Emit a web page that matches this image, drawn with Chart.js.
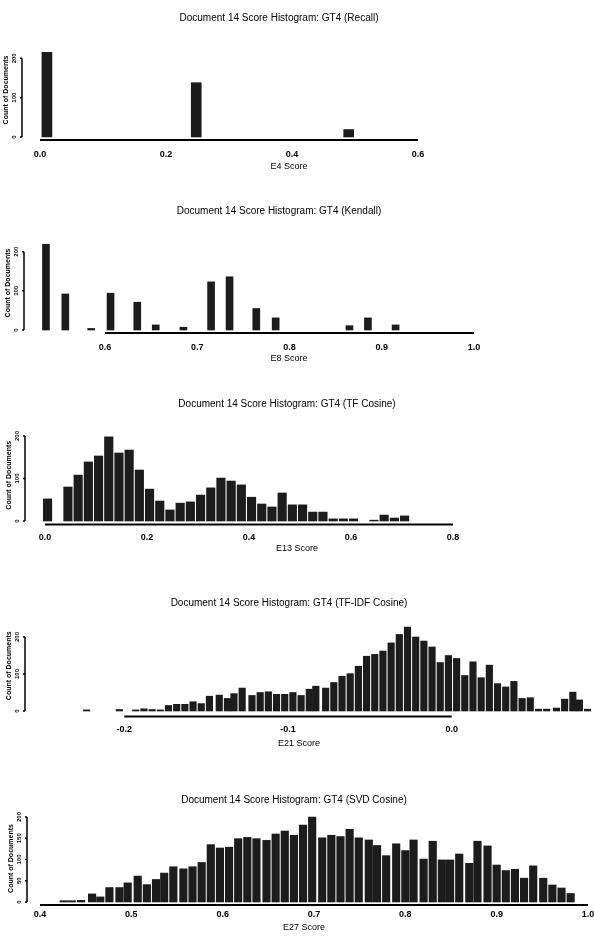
<!DOCTYPE html>
<html>
<head>
<meta charset="utf-8">
<title>Document 14 Score Histograms</title>
<script src="https://cdn.jsdelivr.net/npm/chart.js@4.4.0/dist/chart.umd.min.js"></script>
<style>
  body { margin: 0; background: #fff; }
  #page { position: relative; width: 594px; height: 936px; overflow: hidden; }
  canvas { position: absolute; left: 0; }
</style>
</head>
<body>
<div id="page">
  <canvas id="recallChart" width="594" height="186" style="top:0px"></canvas>
  <canvas id="kendallChart" width="594" height="186" style="top:193px"></canvas>
  <canvas id="tfChart" width="594" height="180" style="top:386px"></canvas>
  <canvas id="tfidfChart" width="594" height="180" style="top:585px"></canvas>
  <canvas id="svdChart" width="594" height="154" style="top:782px"></canvas>
</div>
<script>
// GT4 (Recall)
const recallScore = [0.011, 0.248, 0.490];
const recallCount = [215, 138, 19];
const recallTicks = [0.0, 0.2, 0.4, 0.6];

// GT4 (Kendall)
const kendallScore = [0.536, 0.557, 0.585, 0.606, 0.635, 0.655, 0.685, 0.715, 0.735, 0.764, 0.785, 0.865, 0.885, 0.915];
const kendallCount = [219, 92, 4, 94, 71, 13, 7, 123, 136, 55, 31, 11, 31, 13];
const kendallTicks = [0.6, 0.7, 0.8, 0.9, 1.0];

// GT4 (TF Cosine)
const tfScore = [0.005, 0.045, 0.065, 0.085, 0.105, 0.125, 0.145, 0.165, 0.185, 0.205,
  0.225, 0.245, 0.265, 0.285, 0.305, 0.325, 0.345, 0.365, 0.385, 0.405,
  0.425, 0.445, 0.465, 0.485, 0.505, 0.525, 0.545, 0.565, 0.585, 0.605,
  0.645, 0.665, 0.685, 0.705];
const tfCount = [52, 80, 108, 139, 153, 198, 160, 167, 120, 75,
  47, 26, 42, 45, 61, 78, 101, 94, 85, 56,
  40, 33, 66, 38, 38, 21, 21, 5, 5, 5,
  2, 14, 7, 12];
const tfTicks = [0.0, 0.2, 0.4, 0.6, 0.8];

// GT4 (TF-IDF Cosine)
const tfidfScore = [-0.223, -0.203, -0.193, -0.188, -0.183, -0.178, -0.173, -0.168, -0.163, -0.158,
  -0.153, -0.148, -0.142, -0.137, -0.133, -0.128, -0.122, -0.117, -0.112, -0.107,
  -0.102, -0.097, -0.092, -0.087, -0.083, -0.077, -0.072, -0.067, -0.062, -0.057,
  -0.052, -0.047, -0.042, -0.037, -0.032, -0.027, -0.022, -0.017, -0.012, -0.007,
  -0.002, 0.003, 0.008, 0.013, 0.018, 0.023, 0.028, 0.033, 0.038, 0.043,
  0.048, 0.053, 0.058, 0.064, 0.069, 0.074, 0.078, 0.083];
const tfidfCount = [3, 4, 3, 6, 4, 3, 15, 18, 18, 25,
  20, 40, 43, 34, 47, 62, 42, 50, 52, 45,
  45, 50, 42, 59, 67, 62, 77, 94, 101, 121,
  148, 153, 162, 184, 207, 227, 200, 189, 173, 131,
  150, 142, 96, 133, 90, 124, 74, 65, 80, 34,
  36, 5, 5, 8, 32, 51, 30, 5];
const tfidfTicks = [-0.2, -0.1, 0.0];

// GT4 (SVD Cosine)
const svdScore = [0.426, 0.435, 0.445, 0.457, 0.466, 0.476, 0.487, 0.496, 0.507, 0.517,
  0.527, 0.536, 0.546, 0.557, 0.567, 0.577, 0.587, 0.597, 0.607, 0.617,
  0.627, 0.637, 0.648, 0.658, 0.668, 0.678, 0.688, 0.698, 0.709, 0.719,
  0.729, 0.739, 0.749, 0.760, 0.769, 0.779, 0.790, 0.800, 0.809, 0.820,
  0.830, 0.840, 0.849, 0.859, 0.870, 0.879, 0.890, 0.900, 0.910, 0.920,
  0.930, 0.940, 0.951, 0.961, 0.971, 0.981];
const svdCount = [3, 3, 4, 19, 12, 34, 34, 45, 61, 41,
  53, 68, 83, 78, 83, 93, 135, 127, 129, 149,
  152, 149, 145, 160, 167, 157, 181, 200, 151, 157,
  154, 171, 151, 146, 133, 109, 137, 121, 146, 101,
  143, 99, 99, 113, 91, 143, 132, 87, 74, 77,
  56, 85, 56, 40, 33, 20];
const svdTicks = [0.4, 0.5, 0.6, 0.7, 0.8, 0.9, 1.0];

const countTicks = [0, 100, 200];
const svdCountTicks = [0, 50, 100, 150, 200];

const FONT = "'Liberation Sans Narrow', 'Liberation Sans', Arial, sans-serif";

// axes are drawn detached, only between first and last tick
const axisLines = {
  id: 'axisLines',
  afterDatasetsDraw(chart) {
    const { ctx, chartArea } = chart;
    const x = chart.scales.x;
    const y = chart.scales.y;
    const xt = x.ticks;
    const yt = y.ticks;
    ctx.save();
    ctx.strokeStyle = '#000';
    ctx.lineWidth = 2;
    ctx.beginPath();
    ctx.moveTo(x.getPixelForValue(xt[0].value), chartArea.bottom);
    ctx.lineTo(x.getPixelForValue(xt[xt.length - 1].value), chartArea.bottom);
    ctx.stroke();
    ctx.lineWidth = 1.5;
    ctx.beginPath();
    ctx.moveTo(chartArea.left, y.getPixelForValue(yt[0].value));
    ctx.lineTo(chartArea.left, y.getPixelForValue(yt[yt.length - 1].value));
    yt.forEach((t) => {
      const py = y.getPixelForValue(t.value);
      ctx.moveTo(chartArea.left - 2, py);
      ctx.lineTo(chartArea.left, py);
    });
    ctx.stroke();
    ctx.restore();
  },
};

// box holds pixel positions inside the canvas (layout only)
function histogram(canvasId, title, xTitle, scores, counts, xTicks, yTicks, box) {
  const canvas = document.getElementById(canvasId);
  const lh = 12; // title font 10px * 1.2
  const xPerUnit = (box.xMap[3] - box.xMap[1]) / (box.xMap[2] - box.xMap[0]);
  const xMin = box.xMap[0] + (box.left - box.xMap[1]) / xPerUnit;
  const xMax = box.xMap[0] + (box.right - box.xMap[1]) / xPerUnit;
  const yPerUnit = (box.y0 - box.yTop) / yTicks[yTicks.length - 1];
  const yMin = -(box.bottom - box.y0) / yPerUnit;
  const yMax = (box.y0 - box.top) / yPerUnit;
  const xh = box.xTitleY - box.bottom + 5.4;
  const padBottom = canvas.height - box.bottom - xh;

  return new Chart(canvas, {
    type: 'bar',
    data: {
      datasets: [
        {
          data: scores.map((s, i) => ({ x: s, y: counts[i] })),
          backgroundColor: '#1c1c1c',
          borderWidth: 0,
          barThickness: box.barWidth,
          clip: false,
        },
      ],
    },
    options: {
      responsive: false,
      animation: false,
      layout: {
        padding: { left: box.left - 20, right: 594 - box.right, top: 0, bottom: padBottom },
      },
      plugins: {
        legend: { display: false },
        tooltip: { enabled: false },
        title: {
          display: true,
          text: title,
          color: '#000',
          font: { family: FONT, size: 10, weight: 'normal' },
          padding: { top: box.titleY - lh / 2, bottom: box.top - box.titleY - lh / 2 },
        },
      },
      scales: {
        x: {
          type: 'linear',
          min: xMin,
          max: xMax,
          offset: false,
          grid: { display: false, drawTicks: false },
          border: { display: false },
          afterBuildTicks: (s) => {
            s.ticks = xTicks.map((v) => ({ value: v }));
          },
          afterFit: (s) => {
            s.height = xh;
            s.paddingLeft = 0;
            s.paddingRight = 0;
          },
          ticks: {
            autoSkip: false,
            maxRotation: 0,
            padding: box.tickPad,
            color: '#000',
            font: { family: FONT, size: 9, weight: 'bold' },
            callback: (v) => Number(v).toFixed(1),
          },
          title: {
            display: true,
            text: xTitle,
            color: '#000',
            padding: 0,
            font: { family: FONT, size: 9 },
          },
        },
        y: {
          min: yMin,
          max: yMax,
          grid: { display: false, drawTicks: false },
          border: { display: false },
          afterBuildTicks: (s) => {
            s.ticks = yTicks.map((v) => ({ value: v }));
          },
          afterFit: (s) => {
            s.width = 20;
            s.paddingTop = 0;
            s.paddingBottom = 0;
          },
          ticks: {
            minRotation: 90,
            maxRotation: 90,
            crossAlign: 'center',
            padding: 3,
            color: '#000',
            font: { family: FONT, size: 6, weight: 'bold' },
          },
          title: {
            display: true,
            text: 'Count of Documents',
            color: '#000',
            padding: 0,
            font: { family: FONT, size: 7, weight: 'bold' },
          },
        },
      },
    },
    plugins: [axisLines],
  });
}

histogram('recallChart', 'Document 14 Score Histogram: GT4 (Recall)', 'E4 Score',
  recallScore, recallCount, recallTicks, countTicks,
  { left: 22, right: 556, titleY: 18, top: 40, bottom: 140, y0: 137, yTop: 58.3, xTitleY: 167, tickPad: 9, xMap: [0, 40, 0.6, 418], barWidth: 10 });

histogram('kendallChart', 'Document 14 Score Histogram: GT4 (Kendall)', 'E8 Score',
  kendallScore, kendallCount, kendallTicks, countTicks,
  { left: 24, right: 554, titleY: 18, top: 40, bottom: 140, y0: 137, yTop: 58.7, xTitleY: 166, tickPad: 9, xMap: [0.6, 105, 1.0, 474], barWidth: 7 });

histogram('tfChart', 'Document 14 Score Histogram: GT4 (TF Cosine)', 'E13 Score',
  tfScore, tfCount, tfTicks, countTicks,
  { left: 25, right: 569, titleY: 18, top: 40, bottom: 138.5, y0: 135, yTop: 50, xTitleY: 163, tickPad: 8, xMap: [0, 45, 0.8, 453], barWidth: 8.5 });

histogram('tfidfChart', 'Document 14 Score Histogram: GT4 (TF-IDF Cosine)', 'E21 Score',
  tfidfScore, tfidfCount, tfidfTicks, countTicks,
  { left: 25, right: 573, titleY: 18, top: 30, bottom: 131.5, y0: 126, yTop: 52, xTitleY: 159, tickPad: 8, xMap: [-0.2, 124.3, 0, 451.7], barWidth: 6.5 });

histogram('svdChart', 'Document 14 Score Histogram: GT4 (SVD Cosine)', 'E27 Score',
  svdScore, svdCount, svdTicks, svdCountTicks,
  { left: 27, right: 581, titleY: 18, top: 30, bottom: 123, y0: 120, yTop: 35, xTitleY: 146, tickPad: 4, xMap: [0.4, 40, 1.0, 588], barWidth: 7.5 });
</script>
</body>
</html>
